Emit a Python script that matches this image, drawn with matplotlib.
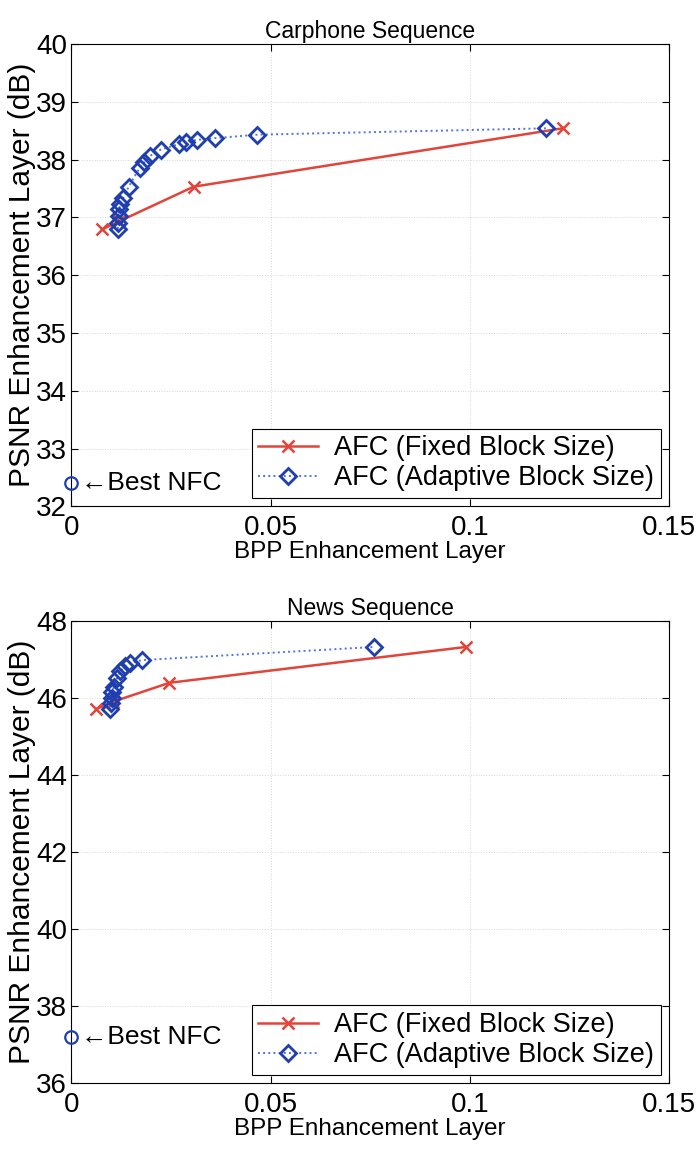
import matplotlib
matplotlib.use("Agg")
import matplotlib.pyplot as plt

plt.rcParams['font.family'] = ['Liberation Sans', 'DejaVu Sans']

# Carphone sequence
car_fixed_bpp = [0.0077, 0.0120, 0.0307, 0.1233]
car_fixed_psnr = [36.79, 36.93, 37.53, 38.54]
car_adapt_bpp = [0.0117, 0.0118, 0.0119, 0.0120, 0.0123, 0.0131, 0.0144, 0.0172,
                 0.0183, 0.0197, 0.0224, 0.0271, 0.0289, 0.0316, 0.0360, 0.0467, 0.1191]
car_adapt_psnr = [36.80, 36.91, 37.02, 37.14, 37.23, 37.34, 37.53, 37.86,
                  37.95, 38.06, 38.17, 38.27, 38.31, 38.34, 38.37, 38.43, 38.54]
car_nfc = 32.4

# News sequence
news_fixed_bpp = [0.0063, 0.0105, 0.0246, 0.0990]
news_fixed_psnr = [45.71, 45.90, 46.39, 47.32]
news_adapt_bpp = [0.0098, 0.0100, 0.0101, 0.0103, 0.0107, 0.0115, 0.0123, 0.0136,
                  0.0148, 0.0178, 0.0760]
news_adapt_psnr = [45.70, 45.86, 46.00, 46.15, 46.29, 46.51, 46.69, 46.82,
                   46.91, 46.98, 47.32]
news_nfc = 37.2

xticks = [0, 0.05, 0.1, 0.15]
xticklabels = ['0', '0.05', '0.1', '0.15']

red = '#e3443a'
blue = '#1f3fae'
blue_line = '#4f74e0'


def draw(ax, title, fb, fp, ab, ap, nfc, ylim, yticks):
    ax.plot(fb, fp, color=red, lw=1.8, marker='x', ms=8, mew=1.8,
            label='AFC (Fixed Block Size)')
    ax.plot(ab, ap, color=blue_line, lw=1.4, ls=':', marker='D', ms=8.5,
            mfc='none', mec=blue, mew=2, label='AFC (Adaptive Block Size)')
    ax.plot([0], [nfc], marker='o', ms=9, mfc='none', mec=blue, mew=1.6,
            clip_on=False, zorder=5)
    ax.text(0.0025, nfc, '\u2190Best NFC', fontsize=19, va='center', ha='left')
    ax.set_xlim(0, 0.15)
    ax.set_ylim(*ylim)
    ax.set_xticks(xticks)
    ax.set_xticklabels(xticklabels)
    ax.set_yticks(yticks)
    ax.tick_params(direction='in', top=True, right=True, labelsize=20, length=5,
                   pad=3)
    ax.tick_params(axis='x', pad=6)
    ax.grid(True, ls=':', color='#d8d8d8', lw=0.7)
    ax.set_title(title, fontsize=16.5, pad=4)
    ax.set_xlabel('BPP Enhancement Layer', fontsize=17.5, labelpad=0)
    ax.set_ylabel('PSNR Enhancement Layer (dB)', fontsize=21.5, labelpad=0)
    leg = ax.legend(loc='lower right', fontsize=19.5, fancybox=False,
                    edgecolor='black', framealpha=1, borderaxespad=0.3,
                    handlelength=2.2, borderpad=0.25, labelspacing=0.15,
                    handletextpad=0.6)
    leg.get_frame().set_linewidth(0.8)


fig = plt.figure(figsize=(6.99, 11.56), dpi=100)
ax1 = fig.add_axes([0.102, 0.562, 0.855, 0.400])
ax2 = fig.add_axes([0.102, 0.063, 0.855, 0.400])

draw(ax1, 'Carphone Sequence', car_fixed_bpp, car_fixed_psnr, car_adapt_bpp,
     car_adapt_psnr, car_nfc, (32, 40), list(range(32, 41)))
draw(ax2, 'News Sequence', news_fixed_bpp, news_fixed_psnr, news_adapt_bpp,
     news_adapt_psnr, news_nfc, (36, 48), list(range(36, 49, 2)))

fig.savefig('out.png', dpi=100)
